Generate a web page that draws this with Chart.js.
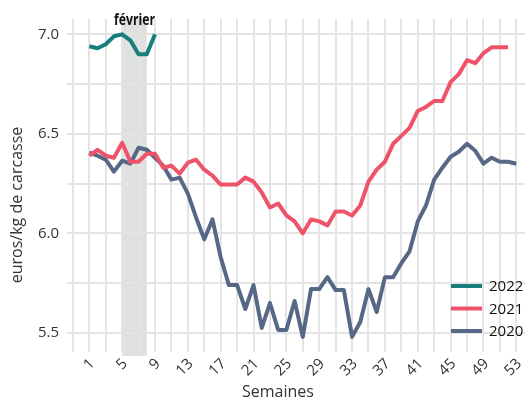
<!DOCTYPE html>
<html lang="fr">
<head>
<meta charset="utf-8">
<title>Prix du porc</title>
<script src="https://cdn.jsdelivr.net/npm/chart.js@4.4.1/dist/chart.umd.min.js"></script>
<style>
  html, body { margin: 0; padding: 0; background: #fff; }
  #wrap { width: 525px; height: 400px; position: relative; }
</style>
</head>
<body>
<div id="wrap"><canvas id="chart"></canvas></div>
<script>
// semaines et prix (euros/kg de carcasse)
const weeks = [1,2,3,4,5,6,7,8,9,10,11,12,13,14,15,16,17,18,19,20,21,22,23,24,25,26,27,
  28,29,30,31,32,33,34,35,36,37,38,39,40,41,42,43,44,45,46,47,48,49,50,51,52,53]

const prix2022 = [6.94, 6.93, 6.95, 6.99, 7.00, 6.97, 6.90, 6.90, 7.00]

const prix2021 = [6.39, 6.42, 6.39, 6.38, 6.455, 6.36, 6.36, 6.40, 6.40, 6.33,
  6.34, 6.30, 6.355, 6.37, 6.32, 6.29, 6.245, 6.245, 6.245, 6.28,
  6.26, 6.205, 6.13, 6.15, 6.09, 6.06, 6.00, 6.07, 6.06, 6.04,
  6.11, 6.11, 6.09, 6.14, 6.26, 6.32, 6.36, 6.45, 6.49, 6.53,
  6.615, 6.635, 6.665, 6.665, 6.76, 6.80, 6.87, 6.855, 6.905, 6.935,
  6.935, 6.935]

const prix2020 = [6.405, 6.39, 6.37, 6.31, 6.365, 6.35, 6.43, 6.42, 6.38, 6.34,
  6.27, 6.28, 6.20, 6.08, 5.97, 6.07, 5.88, 5.74, 5.74, 5.62,
  5.74, 5.525, 5.65, 5.515, 5.515, 5.66, 5.48, 5.72, 5.72, 5.78,
  5.715, 5.715, 5.48, 5.555, 5.72, 5.605, 5.78, 5.78, 5.85, 5.91,
  6.06, 6.14, 6.27, 6.33, 6.385, 6.41, 6.45, 6.415, 6.35, 6.38,
  6.36, 6.36, 6.35]

// ticks / grille
const xTicks = [-1,1,3,5,7,9,11,13,15,17,19,21,23,25,27,29,31,33,35,37,39,41,43,45,47,49,51,53]
const xLabels = [1,5,9,13,17,21,25,29,33,37,41,45,49,53]
const yTicks = [5.5, 5.75, 6.0, 6.25, 6.5, 6.75, 7.0]
const yLabels = [5.5, 6.0, 6.5, 7.0]

// période surlignée
const fevrier = { from: 5, to: 8, label: 'février' }

const xTitle = 'Semaines'
const yTitle = 'euros/kg de carcasse'

const gridColor = '#e4e4e4'
const textColor = '#333333'

const toPoints = values => values.map((v, i) => ({ x: weeks[i], y: v }))

const annotations = {
  id: 'annotations',
  beforeDraw(chart) {
    const { ctx, chartArea, scales } = chart
    const x0 = scales.x.getPixelForValue(fevrier.from)
    const x1 = scales.x.getPixelForValue(fevrier.to)
    ctx.save()
    ctx.fillStyle = '#dfe0e0'
    ctx.fillRect(x0, chartArea.top - 1, x1 - x0, chartArea.bottom - chartArea.top + 9)
    ctx.restore()
  },
  afterDraw(chart) {
    const { ctx, chartArea, scales } = chart
    ctx.save()
    // février (police condensée : on resserre l'Open Sans gras)
    ctx.fillStyle = '#111'
    ctx.font = 'bold 16px "Open Sans"'
    ctx.textAlign = 'center'
    ctx.textBaseline = 'alphabetic'
    const w = ctx.measureText(fevrier.label).width
    ctx.translate(scales.x.getPixelForValue((fevrier.from + fevrier.to) / 2), 25)
    ctx.scale(41 / w, 1)
    ctx.fillText(fevrier.label, 0, 0)
    ctx.restore()

    // titres des axes
    ctx.save()
    ctx.fillStyle = textColor
    ctx.font = '16px "Open Sans"'
    ctx.textAlign = 'center'
    ctx.textBaseline = 'middle'
    ctx.fillText(xTitle, 278, 392)
    ctx.translate(17, 205)
    ctx.rotate(-Math.PI / 2)
    ctx.fillText(yTitle, 0, 0)
    ctx.restore()

    // légende
    ctx.save()
    ctx.font = '15px "Open Sans"'
    ctx.textAlign = 'left'
    ctx.textBaseline = 'middle'
    const n = chart.data.datasets.length
    chart.data.datasets.forEach((ds, i) => {
      const y = chartArea.bottom - 17 - (n - 1 - i) * 22.5
      ctx.strokeStyle = ds.borderColor
      ctx.lineWidth = 4
      ctx.beginPath()
      ctx.moveTo(chartArea.right - 74, y)
      ctx.lineTo(chartArea.right - 43, y)
      ctx.stroke()
      ctx.fillStyle = '#111'
      ctx.fillText(ds.label, chartArea.right - 36, y + 1)
    })
    ctx.restore()
  }
}

const ctx = document.getElementById('chart')

new Chart(ctx, {
  type: 'line',
  data: {
    datasets: [{
      label: '2022',
      data: toPoints(prix2022),
      borderColor: '#177f7b'
    }, {
      label: '2021',
      data: toPoints(prix2021),
      borderColor: '#ef536a'
    }, {
      label: '2020',
      data: toPoints(prix2020),
      borderColor: '#566886'
    }]
  },
  options: {
    responsive: true,
    maintainAspectRatio: false,
    animation: false,
    layout: { padding: { top: 19, right: 0, bottom: 0, left: 0 } },
    elements: {
      point: { radius: 0 },
      line: { borderWidth: 4, tension: 0, borderJoinStyle: 'round', borderCapStyle: 'butt' }
    },
    plugins: {
      legend: { display: false },
      tooltip: { enabled: false }
    },
    scales: {
      x: {
        type: 'linear',
        min: -1.23,
        max: 54.06,
        afterBuildTicks: scale => { scale.ticks = xTicks.map(v => ({ value: v })) },
        afterFit: scale => {
          scale.height = 52
          scale.paddingLeft = 0
          scale.paddingRight = 0
        },
        border: { display: false },
        grid: { color: gridColor, lineWidth: 2, tickLength: 4, tickColor: gridColor },
        ticks: {
          autoSkip: false,
          minRotation: 45,
          maxRotation: 45,
          padding: 3,
          labelOffset: 3,
          color: textColor,
          font: { family: 'Open Sans', size: 15 },
          callback: value => xLabels.includes(value) ? String(value) : ''
        }
      },
      y: {
        min: 5.424,
        max: 7.077,
        afterBuildTicks: scale => { scale.ticks = yTicks.map(v => ({ value: v })) },
        afterFit: scale => { scale.width = 71 },
        border: { display: false },
        grid: { color: gridColor, lineWidth: 2, tickLength: 4, tickColor: gridColor },
        ticks: {
          padding: 8,
          color: textColor,
          font: { family: 'Open Sans', size: 15 },
          callback: value => yLabels.includes(value) ? value.toFixed(1) : ''
        }
      }
    }
  },
  plugins: [annotations]
})
</script>
</body>
</html>
